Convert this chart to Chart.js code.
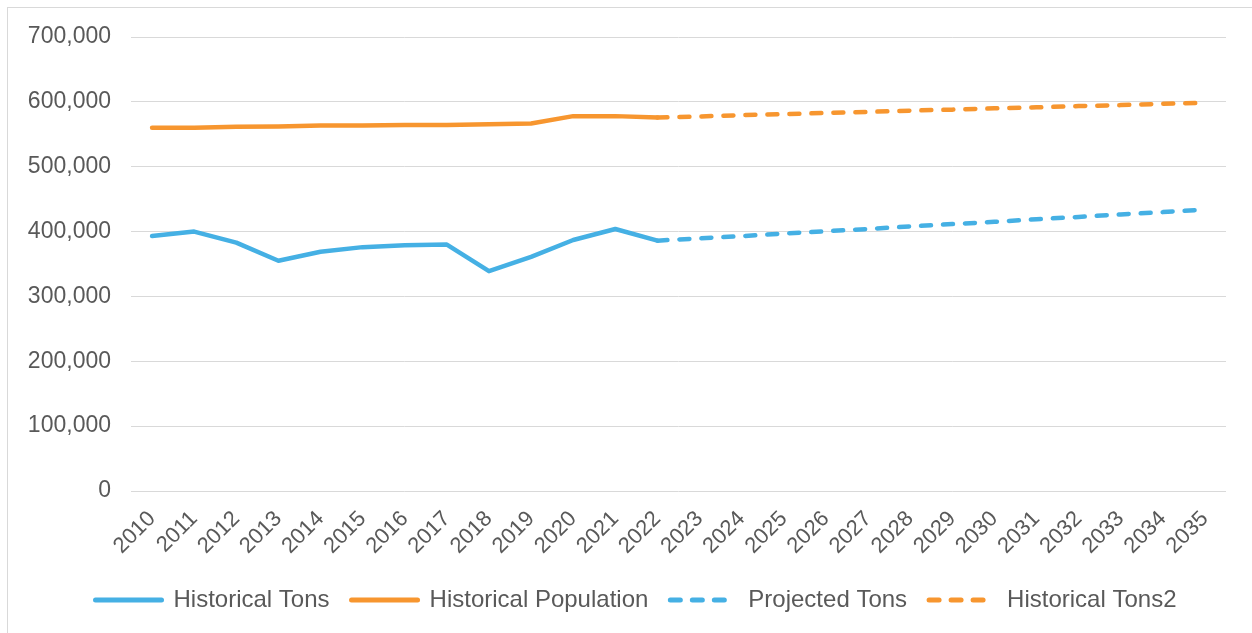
<!DOCTYPE html>
<html>
<head>
<meta charset="utf-8">
<script src="https://cdn.jsdelivr.net/npm/chart.js@4/dist/chart.umd.min.js"></script>
<style>
  html, body { margin: 0; padding: 0; background: #ffffff; }
  body { width: 1252px; height: 633px; position: relative; overflow: hidden; }
  #frame { position: absolute; left: 7px; top: 7px; width: 1260px; height: 640px; border: 1px solid #d9d9d9; box-sizing: border-box; }
  #wrap { position: absolute; left: 0; top: 0; width: 1252px; height: 633px; }
</style>
</head>
<body>
<div id="frame"></div>
<div id="wrap"><canvas id="c" width="1252" height="633"></canvas></div>
<script>
const years = ['2010','2011','2012','2013','2014','2015','2016','2017','2018','2019','2020','2021','2022',
               '2023','2024','2025','2026','2027','2028','2029','2030','2031','2032','2033','2034','2035'];
const historicalTons = [393000, 400000, 383000, 355000, 369000, 376000, 379000, 380000, 339000, 361000, 387000, 404000, 386000];
const historicalPopulation = [560000, 560000, 561500, 562000, 563500, 563500, 564500, 564500, 565500, 566500, 578000, 578000, 576000];
const projectedTons = [386000, 389500, 393000, 397000, 400500, 404000, 408000, 411500, 415000, 419000, 422500, 426500, 430000, 434000];
const historicalTons2 = [576000, 577500, 579500, 581000, 583000, 584500, 586500, 588000, 590000, 591500, 593500, 595000, 597000, 598500];
const yTicks = [0, 100000, 200000, 300000, 400000, 500000, 600000, 700000];

const BLUE = '#45b0e4';
const ORANGE = '#f7962f';
const TEXT = '#595959';
const GRID = '#d9d9d9';
const FONT = 'Liberation Sans, Arial, sans-serif';

function pad(arr, before, total) {
  const out = [];
  for (let i = 0; i < before; i++) out.push(null);
  for (const v of arr) out.push(v);
  while (out.length < total) out.push(null);
  return out;
}
const N = years.length;
const common = { pointRadius: 0, pointHoverRadius: 0, tension: 0, borderWidth: 4.5, borderCapStyle: 'round', borderJoinStyle: 'round', fill: false };

const legendShift = {
  id: 'legendShift',
  afterLayout(chart) {
    const lg = chart.legend;
    if (lg) { lg.left += 23; lg.right += 23; }
  }
};

new Chart(document.getElementById('c'), {
  type: 'line',
  data: {
    labels: years,
    datasets: [
      Object.assign({ label: 'Historical Tons', data: pad(historicalTons, 0, N), borderColor: BLUE, backgroundColor: BLUE }, common),
      Object.assign({ label: 'Historical Population', data: pad(historicalPopulation, 0, N), borderColor: ORANGE, backgroundColor: ORANGE }, common),
      Object.assign({ label: 'Projected Tons', data: pad(projectedTons, 12, N), borderColor: BLUE, backgroundColor: BLUE, borderDash: [10, 12] }, common),
      Object.assign({ label: 'Historical Tons2', data: pad(historicalTons2, 12, N), borderColor: ORANGE, backgroundColor: ORANGE, borderDash: [10, 12] }, common)
    ]
  },
  plugins: [legendShift],
  options: {
    responsive: false,
    animation: false,
    events: [],
    layout: { padding: { top: 37, left: 0, right: 26, bottom: 11 } },
    plugins: {
      tooltip: { enabled: false },
      legend: {
        position: 'bottom',
        labels: {
          usePointStyle: true,
          pointStyle: 'line',
          pointStyleWidth: 66,
          boxHeight: 5,
          padding: 22,
          color: TEXT,
          font: { family: FONT, size: 24 },
          generateLabels(chart) {
            return chart.data.datasets.map((ds, i) => ({
              text: ds.label,
              datasetIndex: i,
              fillStyle: ds.borderColor,
              strokeStyle: ds.borderColor,
              fontColor: TEXT,
              lineWidth: 5,
              lineCap: 'round',
              lineDash: ds.borderDash || [],
              lineDashOffset: 0,
              pointStyle: 'line',
              hidden: false
            }));
          }
        }
      }
    },
    scales: {
      x: {
        offset: true,
        grid: { display: false, drawTicks: false },
        border: { display: false },
        ticks: {
          autoSkip: false, maxRotation: 45, minRotation: 45, padding: 15,
          color: TEXT, font: { family: FONT, size: 22 }
        },
        afterFit: s => { s.height = 75; }
      },
      y: {
        min: 0, max: 700000,
        afterBuildTicks: s => { s.ticks = yTicks.map(v => ({ value: v })); },
        grid: { color: GRID, lineWidth: 1, drawTicks: false },
        border: { display: false },
        ticks: {
          padding: 20, color: TEXT,
          font: { family: FONT, size: 23 },
          callback: v => Number(v).toLocaleString('en-US')
        },
        afterFit: s => { s.width = 131; }
      }
    }
  }
});
</script>
</body>
</html>
